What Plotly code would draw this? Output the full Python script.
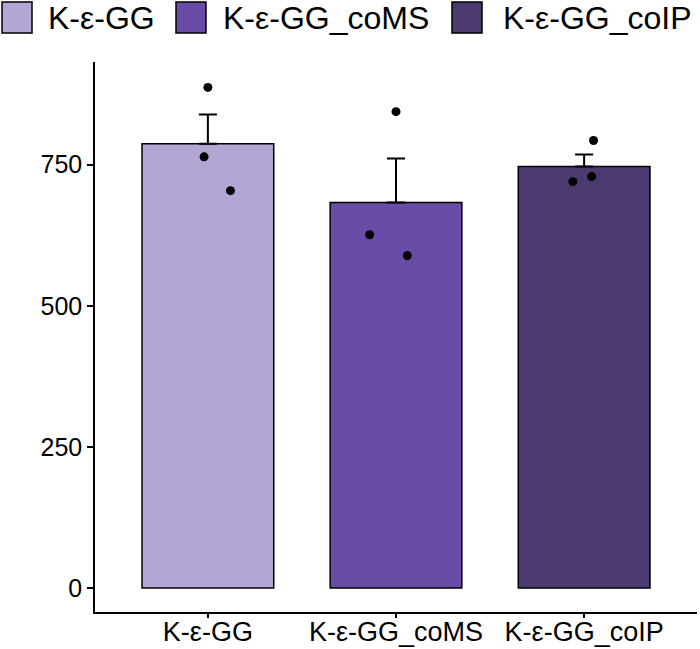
import plotly.graph_objects as go

categories = ["K-ε-GG", "K-ε-GG_coMS", "K-ε-GG_coIP"]
means = [787, 683, 747]
se = [52, 78, 21]
points = [[887, 764, 704], [844, 626, 589], [793, 720, 729]]
jitter = [[0.0, -0.02, 0.12], [0.0, -0.14, 0.06], [0.05, -0.06, 0.04]]
colors = ["#B3A6D4", "#684CA8", "#4B3A6F"]
yticks = [0, 250, 500, 750]

# plot area in pixels
L, R, T, B = 95, 697, 62, 612
W, H = 700, 649

fig = go.Figure()
xs = list(range(len(categories)))
fig.add_trace(go.Bar(
    x=xs, y=means, width=0.7,
    marker=dict(color=colors, line=dict(color="black", width=1.5)),
    error_y=dict(type="data", symmetric=False, array=se, arrayminus=[0]*3,
                 color="black", thickness=2, width=9),
    showlegend=False,
))
px, py = [], []
for i, (vals, js) in enumerate(zip(points, jitter)):
    for v, j in zip(vals, js):
        px.append(i + j)
        py.append(v)
fig.add_trace(go.Scatter(x=px, y=py, mode="markers",
                         marker=dict(color="black", size=9), showlegend=False))

# manual legend
def fx(p):
    return (p - L) / (R - L)

def fy(p):
    return (B - p) / (B - T)

leg_sq_x = [2, 176, 452]
leg_txt_x = [46, 221, 501]
for c, col, sx, tx in zip(categories, colors, leg_sq_x, leg_txt_x):
    fig.add_shape(type="rect", xref="paper", yref="paper",
                  x0=fx(sx), x1=fx(sx + 30), y0=fy(33), y1=fy(2),
                  fillcolor=col, line=dict(color="black", width=1.5))
    fig.add_annotation(xref="paper", yref="paper", x=fx(tx), y=fy(18),
                       xanchor="left", yanchor="middle", text=c, showarrow=False,
                       font=dict(size=32, color="black"))

fig.update_layout(
    width=W, height=H,
    margin=dict(l=L, r=W - R, t=T, b=H - B, autoexpand=False),
    plot_bgcolor="white", paper_bgcolor="white",
    font=dict(family="Liberation Sans, Arial, sans-serif", color="black"),
    showlegend=False,
)
fig.update_xaxes(range=[-0.6, 2.6], tickmode="array", tickvals=xs, ticktext=categories,
                 showline=True, linecolor="black", linewidth=1.5,
                 ticks="outside", ticklen=4, tickcolor="black", tickwidth=1.5,
                 ticklabelstandoff=-9,
                 tickfont=dict(size=27), showgrid=False, zeroline=False, automargin=False)
fig.update_yaxes(range=[-42.5, 932], tickmode="array", tickvals=yticks,
                 ticktext=[str(t) for t in yticks],
                 showline=True, linecolor="black", linewidth=1.5,
                 ticks="outside", ticklen=6, tickcolor="black", tickwidth=1.5,
                 tickfont=dict(size=25), showgrid=False, zeroline=False, automargin=False)
fig.write_html("out.html")
